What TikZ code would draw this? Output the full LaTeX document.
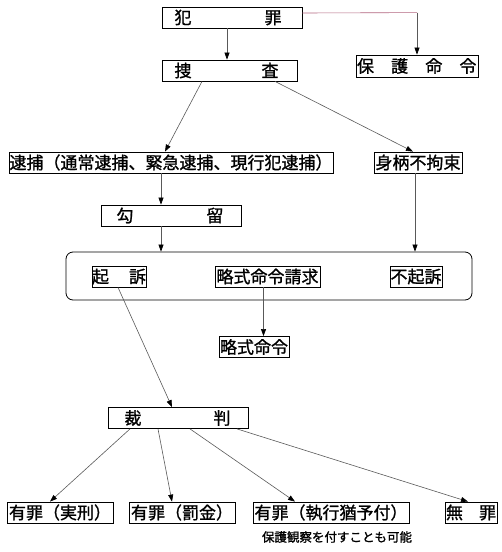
\documentclass[tikz,border=0pt]{standalone}
\usepackage{fontspec}
\newfontfamily\jp[FakeBold=1.2]{Noto Sans CJK JP}
\usetikzlibrary{arrows.meta}
\begin{document}
\begin{tikzpicture}[x=1pt,y=-1pt,
  bx/.style={draw,line width=0.8pt,inner sep=0pt,minimum height=21pt,
    font=\jp\fontsize{17}{17}\selectfont},
  con/.style={draw=black!65,line width=0.6pt,-{Triangle[length=7pt,width=5pt,color=black]}},
  pinkline/.style={draw=purple!50!gray!80,line width=0.6pt},
  note/.style={font=\jp\fontsize{12.5}{12.5}\selectfont,inner sep=0pt}]
\useasboundingbox (0,0) rectangle (502,552);
% boxes
\node[bx,minimum width=140pt] (crime) at (232,17.5) {\makebox[140pt]{\hspace{12.5pt}犯\hfill 罪\hspace{20.5pt}}};
\node[bx,minimum width=135pt] (sousa) at (229.5,70.5) {\makebox[135pt]{\hspace{12.5pt}捜\hfill 査\hspace{18.5pt}}};
\node[bx,minimum width=122pt,minimum height=22pt] (hogo) at (417,66) {\makebox[122pt]{\hspace{1pt}保\hfill 護\hfill 命\hfill 令\hspace{1.5pt}}};
\node[bx,minimum width=324pt] (taiho) at (171,162.5) {逮捕（通常逮捕、緊急逮捕、現行犯逮捕）};
\node[bx,minimum width=88pt] (mugara) at (418,162.5) {身柄不拘束};
\node[bx,minimum width=140pt] (koryu) at (171,215.5) {\makebox[140pt]{\hspace{15.5pt}勾\hfill 留\hspace{17.5pt}}};
\node[draw,line width=0.8pt,rounded corners=7pt,minimum width=406pt,minimum height=48pt,inner sep=0pt] (big) at (269,276) {};
\node[bx,minimum width=54pt] (kiso) at (119,276.5) {\makebox[54pt]{起\hfill 訴}};
\node[bx,minimum width=105pt] (seikyu) at (267.5,276.5) {略式命令請求};
\node[bx,minimum width=52pt] (fukiso) at (416,276.5) {不起訴};
\node[bx,minimum width=70pt] (meirei) at (254,347) {略式命令};
\node[bx,minimum width=140pt] (saiban) at (178,418) {\makebox[140pt]{\hspace{16.5pt}裁\hfill 判\hspace{17.5pt}}};
\node[bx,minimum width=106pt] (y1) at (60,512.5) {有罪（実刑）};
\node[bx,minimum width=106pt] (y2) at (182,512.5) {有罪（罰金）};
\node[bx,minimum width=156pt] (y3) at (331,512.5) {有罪（執行猶予付）};
\node[bx,minimum width=52pt] (muzai) at (471,512.5) {\makebox[52pt]{\hspace{1pt}無\hfill 罪\hspace{1pt}}};
\node[note] (n) at (337,537) {保護観察を付すことも可能};
% connectors
\draw[con] ([xshift=-5pt]crime.south) -- ([xshift=-2.5pt]sousa.north);
\coordinate (hc) at (hogo.north |- crime.north);
\coordinate (hc) at ([yshift=-6pt]hc);
\draw[pinkline] ([yshift=4.5pt]crime.east) -- (hc);
\draw[con] (hc) -- (hogo.north);
\draw[con] ([xshift=-27.5pt]sousa.south) -- ([xshift=-6pt]taiho.north);
\draw[con] ([xshift=45.5pt]sousa.south) -- ([xshift=-5pt]mugara.north);
\draw[con] ([xshift=-10pt]taiho.south) -- ([xshift=-10pt]koryu.south |- koryu.north);
\draw[con] ([xshift=-10pt]koryu.south) -- ([xshift=-10pt]koryu.south |- big.north);
\draw[con] ([xshift=-3pt]mugara.south) -- ([xshift=-3pt]mugara.south |- big.north);
\draw[con] ([xshift=-1pt]kiso.south) -- ([xshift=-6pt]saiban.north);
\draw[con] ([xshift=-4pt]seikyu.south) -- ([xshift=-4pt]seikyu.south |- meirei.north);
\draw[con] ([xshift=-48pt]saiban.south) -- ([xshift=-10pt]y1.north);
\draw[con] ([xshift=-20pt]saiban.south) -- ([xshift=-10pt]y2.north);
\draw[con] ([xshift=12pt]saiban.south) -- ([xshift=-36pt]y3.north);
\draw[con] ([xshift=59pt]saiban.south) -- ([xshift=-3pt]muzai.north);
\end{tikzpicture}
\end{document}
